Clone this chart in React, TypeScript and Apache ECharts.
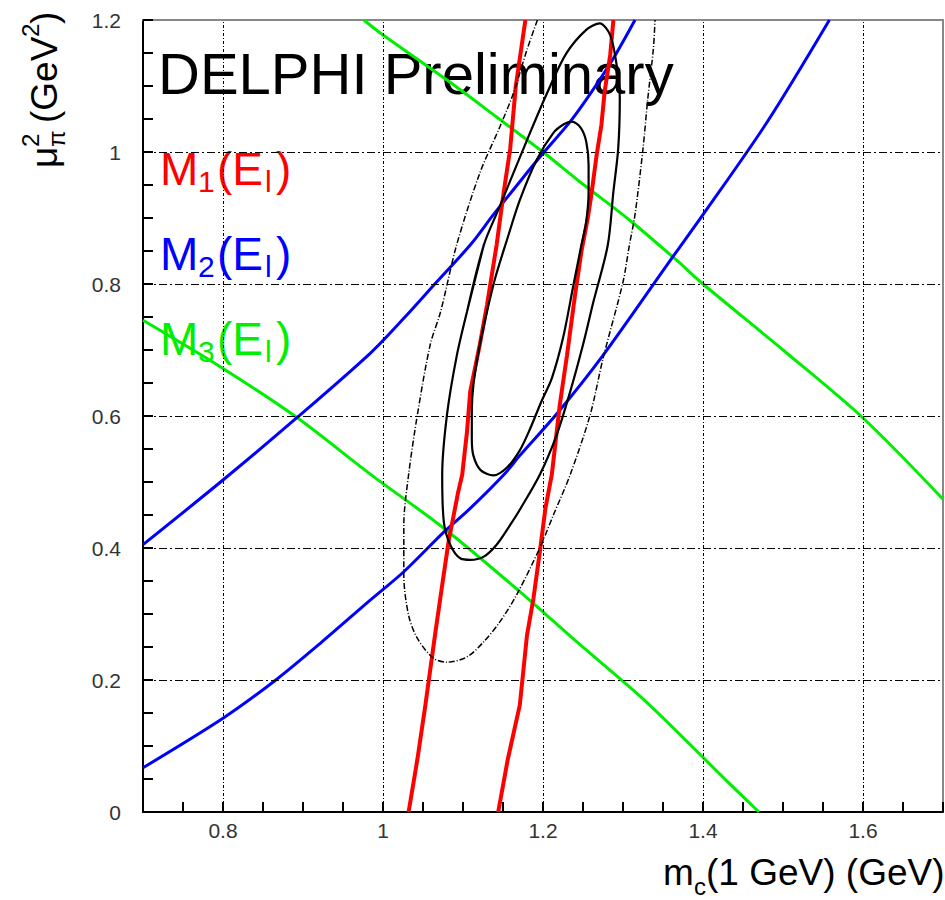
import React, { useEffect, useRef } from 'react';
import * as echarts from 'echarts';

// Axis ranges and tick labels
const X_MIN = 0.7;
const X_MAX = 1.7;
const Y_MIN = 0;
const Y_MAX = 1.2;
const xTickValues = [0.8, 1.0, 1.2, 1.4, 1.6];
const xTickLabels = ['0.8', '1', '1.2', '1.4', '1.6'];
const yTickValues = [0, 0.2, 0.4, 0.6, 0.8, 1.0, 1.2];
const yTickLabels = ['0', '0.2', '0.4', '0.6', '0.8', '1', '1.2'];

// M1(El) band edges (red): [m_c, mu_pi^2]
const m1Left = [
  [1.032, 0], [1.043, 0.08], [1.053, 0.162], [1.065, 0.268], [1.074, 0.344], [1.082, 0.41],
  [1.094, 0.485], [1.099, 0.511], [1.105, 0.576], [1.109, 0.637], [1.121, 0.708], [1.13, 0.768],
  [1.142, 0.859], [1.151, 0.94], [1.159, 1.005], [1.166, 1.1], [1.178, 1.2],
];
const m1Right = [
  [1.144, 0], [1.156, 0.08], [1.171, 0.162], [1.18, 0.268], [1.188, 0.323], [1.196, 0.394],
  [1.203, 0.46], [1.211, 0.511], [1.221, 0.617], [1.23, 0.692], [1.24, 0.783], [1.248, 0.849],
  [1.256, 0.9], [1.261, 0.94], [1.267, 0.995], [1.273, 1.041], [1.277, 1.091], [1.284, 1.147], [1.288, 1.2],
];

// M2(El) band edges (blue)
const m2Lower = [
  [0.7, 0.067], [0.8, 0.142], [0.866, 0.2], [0.922, 0.256], [0.984, 0.321], [1.026, 0.364],
  [1.076, 0.424], [1.109, 0.46], [1.151, 0.511], [1.171, 0.54], [1.217, 0.603], [1.275, 0.692],
  [1.358, 0.834], [1.4, 0.905], [1.48, 1.045], [1.558, 1.2],
];
const m2Upper = [
  [0.7, 0.405], [0.8, 0.503], [0.892, 0.597], [0.984, 0.695], [1.026, 0.748], [1.067, 0.803],
  [1.109, 0.859], [1.138, 0.905], [1.171, 0.955], [1.2, 0.998], [1.234, 1.046], [1.259, 1.088],
  [1.288, 1.142], [1.315, 1.2],
];

// M3(El) band edges (green)
const m3Lower = [
  [0.7, 0.745], [0.8, 0.672], [0.892, 0.598], [0.984, 0.512], [1.076, 0.43], [1.171, 0.334],
  [1.242, 0.258], [1.329, 0.167], [1.429, 0.048], [1.47, 0],
];
const m3Upper = [
  [0.976, 1.2], [0.997, 1.18], [1.08, 1.109], [1.142, 1.053], [1.2, 1.0], [1.246, 0.955],
  [1.308, 0.897], [1.367, 0.836], [1.4, 0.8], [1.5, 0.7], [1.6, 0.597], [1.7, 0.474],
];

// Fit contours (black), each traced once around and overlapping its first segment
const contourInner = [
  [1.121, 0.708], [1.13, 0.758], [1.14, 0.808], [1.155, 0.867], [1.171, 0.927], [1.192, 0.988],
  [1.213, 1.029], [1.226, 1.042], [1.236, 1.046], [1.247, 1.037], [1.254, 1.016], [1.257, 0.98],
  [1.257, 0.94], [1.254, 0.894], [1.248, 0.859], [1.238, 0.798], [1.225, 0.718], [1.211, 0.657],
  [1.198, 0.622], [1.184, 0.581], [1.171, 0.548], [1.155, 0.522], [1.138, 0.51], [1.122, 0.518],
  [1.113, 0.54], [1.111, 0.566], [1.111, 0.606], [1.113, 0.647], [1.121, 0.708], [1.13, 0.758],
];
const contourMiddle = [
  [1.105, 0.758], [1.126, 0.859], [1.145, 0.915], [1.18, 1.018], [1.205, 1.089], [1.229, 1.149],
  [1.254, 1.185], [1.271, 1.195], [1.284, 1.177], [1.292, 1.132], [1.296, 1.081], [1.294, 1.005],
  [1.288, 0.94], [1.281, 0.859], [1.263, 0.773], [1.25, 0.708], [1.234, 0.637], [1.217, 0.571],
  [1.196, 0.511], [1.171, 0.458], [1.159, 0.435], [1.142, 0.405], [1.126, 0.387], [1.109, 0.382],
  [1.097, 0.384], [1.084, 0.405], [1.076, 0.44], [1.074, 0.511], [1.08, 0.602], [1.092, 0.69],
  [1.105, 0.758], [1.126, 0.859],
];
const contourOuter = [
  [1.193, 1.2], [1.18, 1.155], [1.163, 1.089], [1.146, 1.038], [1.121, 0.968], [1.092, 0.859],
  [1.072, 0.758], [1.059, 0.708], [1.043, 0.602], [1.032, 0.511], [1.026, 0.435], [1.026, 0.359],
  [1.032, 0.298], [1.043, 0.263], [1.063, 0.233], [1.08, 0.227], [1.105, 0.235], [1.126, 0.258],
  [1.146, 0.288], [1.167, 0.329], [1.196, 0.4], [1.213, 0.45], [1.234, 0.511], [1.259, 0.602],
  [1.275, 0.687], [1.3, 0.803], [1.308, 0.859], [1.315, 0.905], [1.325, 1.005], [1.331, 1.081],
  [1.338, 1.157], [1.34, 1.2],
];

const FONT = '"Liberation Sans", Arial, Helvetica, sans-serif';
const RED = '#ff0000';
const BLUE = '#0000ff';
const GREEN = '#00ee00';

function tickFormatter(values: number[], labels: string[]) {
  return (v: number) => {
    const i = values.findIndex((t) => Math.abs(t - v) < 1e-6);
    return i >= 0 ? labels[i] : '';
  };
}

function curve(data: number[][], color: string, width: number, z: number, type: any = 'solid', smooth: any = false) {
  return {
    type: 'line',
    data,
    showSymbol: false,
    symbol: 'none',
    smooth,
    silent: true,
    z,
    lineStyle: { color, width, type },
  };
}

// Band label "M_k(E_l)" built from pieces so the subscripts sit low
function bandLabel(k: string, color: string, x: number, y: number) {
  const big = { fill: color, fontSize: 46, fontFamily: FONT, verticalAlign: 'middle', align: 'left' };
  const small = { fill: color, fontSize: 30, fontFamily: FONT, verticalAlign: 'middle', align: 'left' };
  return {
    type: 'group',
    x,
    y,
    z: 0,
    children: [
      { type: 'text', x: 0, y: 0, style: { ...big, text: 'M' } },
      { type: 'text', x: 38, y: 12, style: { ...small, text: k } },
      { type: 'text', x: 57, y: 0, style: { ...big, text: '(E' } },
      { type: 'text', x: 105, y: 12, style: { ...small, text: 'l' } },
      { type: 'text', x: 116, y: 0, style: { ...big, text: ')' } },
    ],
  };
}

export default function App() {
  const ref = useRef<HTMLDivElement>(null);

  useEffect(() => {
    document.body.style.margin = '0';
    if (!ref.current) return;
    const chart = echarts.init(ref.current, null, { renderer: 'svg' });

    const axisText = { color: '#333', fontSize: 21, fontFamily: FONT };
    const titleBig = { fill: '#000', fontSize: 37, fontFamily: FONT, verticalAlign: 'middle', align: 'left' };
    const titleSmall = { fill: '#000', fontSize: 24, fontFamily: FONT, verticalAlign: 'middle', align: 'left' };

    const option: any = {
      animation: false,
      backgroundColor: '#fff',
      grid: { left: 143, right: 2, top: 20, bottom: 88, containLabel: false, outerBoundsMode: 'none' },
      xAxis: [
        {
          type: 'value',
          min: X_MIN,
          max: X_MAX,
          interval: 0.05,
          position: 'bottom',
          axisLine: { onZero: false, lineStyle: { color: '#000', width: 2 } },
          axisTick: { inside: true, length: 10, lineStyle: { color: '#000', width: 2 } },
          axisLabel: { ...axisText, margin: 8, formatter: tickFormatter(xTickValues, xTickLabels) },
          splitLine: { show: false },
        },
        {
          type: 'value',
          min: X_MIN,
          max: X_MAX,
          position: 'top',
          axisLine: { onZero: false, lineStyle: { color: '#888', width: 2 } },
          axisTick: { show: false },
          axisLabel: { show: false },
          splitLine: { show: false },
        },
      ],
      yAxis: [
        {
          type: 'value',
          min: Y_MIN,
          max: Y_MAX,
          interval: 0.05,
          position: 'left',
          axisLine: { show: true, onZero: false, lineStyle: { color: '#000', width: 2 } },
          axisTick: { show: true, inside: true, length: 10, lineStyle: { color: '#000', width: 2 } },
          axisLabel: { ...axisText, margin: 22, formatter: tickFormatter(yTickValues, yTickLabels) },
          splitLine: { show: false },
        },
        {
          type: 'value',
          min: Y_MIN,
          max: Y_MAX,
          position: 'right',
          axisLine: { show: true, onZero: false, lineStyle: { color: '#888', width: 2 } },
          axisTick: { show: false },
          axisLabel: { show: false },
          splitLine: { show: false },
        },
      ],
      series: [
        {
          type: 'line',
          data: [[X_MIN, Y_MIN]],
          showSymbol: false,
          symbol: 'none',
          silent: true,
          z: 1,
          lineStyle: { width: 0 },
          markLine: {
            silent: true,
            symbol: ['none', 'none'],
            label: { show: false },
            data: [
              ...xTickValues.map((v) => ({ xAxis: v, lineStyle: { color: '#000', width: 1, type: [3, 2, 1, 2] } })),
              ...yTickValues
                .filter((v) => v > Y_MIN && v < Y_MAX)
                .map((v) => ({ yAxis: v, lineStyle: { color: '#000', width: 1, type: [8, 3, 2, 3] } })),
            ],
          },
        },
        curve(m3Lower, GREEN, 3, 3, 'solid', 0.3),
        curve(m3Upper, GREEN, 3, 3, 'solid', 0.3),
        curve(m2Lower, BLUE, 3, 4, 'solid', 0.3),
        curve(m2Upper, BLUE, 3, 4, 'solid', 0.3),
        curve(m1Left, RED, 4, 5),
        curve(m1Right, RED, 4, 5),
        curve(contourOuter, '#000', 1.5, 6, [6, 2, 1, 2], 0.3),
        curve(contourMiddle, '#000', 2.2, 6, 'solid', 0.3),
        curve(contourInner, '#000', 2.2, 6, 'solid', 0.3),
      ],
      graphic: [
        {
          type: 'text',
          x: 158,
          y: 73,
          z: 0,
          style: { text: 'DELPHI Preliminary', fill: '#000', fontSize: 58, fontFamily: FONT, verticalAlign: 'middle', align: 'left' },
        },
        bandLabel('1', RED, 160, 169),
        bandLabel('2', BLUE, 160, 254),
        bandLabel('3', GREEN, 160, 339),
        // x-axis title: m_c(1 GeV) (GeV)
        {
          type: 'group',
          x: 663,
          y: 872,
          children: [
            { type: 'text', x: 0, y: 0, style: { ...titleBig, text: 'm' } },
            { type: 'text', x: 31, y: 14, style: { ...titleSmall, text: 'c' } },
            { type: 'text', x: 43, y: 0, style: { ...titleBig, text: '(1 GeV) (GeV)' } },
          ],
        },
        // y-axis title: mu_pi^2 (GeV^2), reading upward
        {
          type: 'group',
          x: 44,
          y: 168,
          rotation: Math.PI / 2,
          children: [
            { type: 'text', x: 0, y: 0, style: { ...titleBig, text: 'μ' } },
            { type: 'text', x: 21, y: 12, style: { ...titleSmall, text: 'π' } },
            { type: 'text', x: 21, y: -14, style: { ...titleSmall, text: '2' } },
            { type: 'text', x: 45, y: 0, style: { ...titleBig, text: '(GeV' } },
            { type: 'text', x: 131, y: -14, style: { ...titleSmall, text: '2' } },
            { type: 'text', x: 144, y: 0, style: { ...titleBig, text: ')' } },
          ],
        },
      ],
    };

    chart.setOption(option);
    return () => chart.dispose();
  }, []);

  return <div ref={ref} style={{ width: 945, height: 900 }} />;
}
